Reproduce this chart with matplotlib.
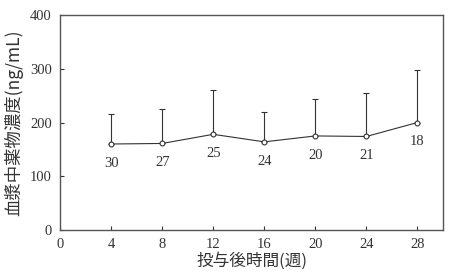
import numpy as np
import matplotlib
matplotlib.use('Agg')
from matplotlib import pyplot as plt

# データ
weeks = [4, 8, 12, 16, 20, 24, 28]
mean_conc = [160, 161, 178, 164, 175, 174, 200]
sd_upper = [56, 65, 82, 56, 69, 81, 97]
n_counts = [30, 27, 25, 24, 20, 21, 18]
x_ticks = [0, 4, 8, 12, 16, 20, 24, 28]
y_ticks = [0, 100, 200, 300, 400]

jp_font = ['Noto Sans CJK JP', 'DejaVu Sans']
num_font = ['Liberation Serif', 'DejaVu Serif']
ink = '#333333'

fig = plt.figure(figsize=(4.5, 2.75), dpi=100)
ax = fig.add_axes([60/450, 45/275, 383/450, 215/275])

ax.errorbar(
    weeks, mean_conc,
    yerr=[np.zeros(len(sd_upper)), sd_upper],
    color=ink, lw=0.8, capsize=2.5, capthick=0.8,
    marker='o', markersize=3.5, markerfacecolor='white',
    markeredgecolor=ink, markeredgewidth=0.8, zorder=3
)

for x, y, n in zip(weeks, mean_conc, n_counts):
    ax.annotate(str(n), (x, y), xytext=(0, -14), textcoords='offset points',
                ha='center', va='center', fontsize=10.5, family=num_font, color=ink)

ax.set_xlim(0, 30)
ax.set_ylim(0, 400)
ax.set_xticks(x_ticks)
ax.set_yticks(y_ticks)
ax.tick_params(direction='in', length=3, width=0.8, colors=ink, labelsize=10.5,
               top=False, right=False, pad=6)
for lab in ax.get_xticklabels() + ax.get_yticklabels():
    lab.set_family(num_font)
for s in ax.spines.values():
    s.set_color('#555555')
    s.set_linewidth(1.0)

ax.set_xlabel('投与後時間(週)', family=jp_font, fontsize=12, color=ink, labelpad=1)
ax.set_ylabel('血漿中薬物濃度(ng/mL)', family=jp_font, fontsize=12.5, color=ink, labelpad=5)

fig.savefig('out.png', dpi=100)
